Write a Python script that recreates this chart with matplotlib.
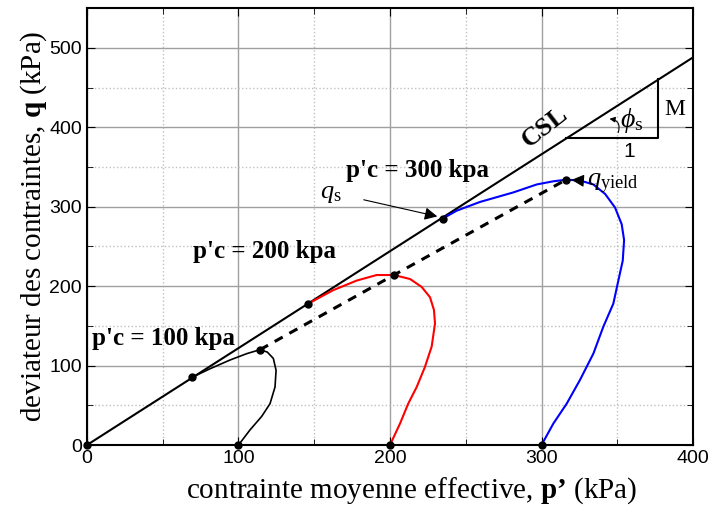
import matplotlib.pyplot as plt
import numpy as np
from matplotlib.patches import FancyArrowPatch

plt.rcParams['mathtext.fontset'] = 'custom'
plt.rcParams['mathtext.rm'] = 'Liberation Serif'
plt.rcParams['mathtext.it'] = 'Liberation Serif:italic'
plt.rcParams['mathtext.bf'] = 'Liberation Serif:bold'

# critical state line slope
M = 1.22
csl_p = [0, 400]

# stress paths (p', q) for the three consolidation pressures
p100 = [100, 107.6, 115.3, 120.8, 124.1, 124.8, 123, 119, 114.2, 105.4, 94.4, 81.2, 69.1]
q100 = [0, 19, 36, 52, 73, 94, 109, 117, 120, 115, 107, 96, 85]
p200 = [200, 206.6, 212, 217.6, 223, 227.5, 229.7, 229, 226.4, 220.9, 213.2, 202.6,
        191.2, 178, 162.6, 146]
q200 = [0, 27, 52, 73, 98, 124, 153, 170, 186, 199, 209, 214, 214, 207, 195, 178]
p300 = [300, 307.8, 316.6, 325.4, 334.2, 340.8, 347.4, 350.7, 353.6, 354.5, 352.9, 348.5,
        342, 334.2, 325.4, 316.2, 307.8, 296.8, 281.4, 259.4, 244, 234.8]
q300 = [0, 27, 52, 82, 115, 149, 178, 207, 232, 258, 278, 299, 316, 328, 333, 334, 332,
        328, 318, 306, 295, 285]

# yield points and points reaching the CSL
yield_p = [114.2, 202.6, 316.2]
yield_q = [120, 214, 334]
cs_p = [69.1, 146, 234.8]
cs_q = [85, 178, 285]
start_p = [0, 100, 200, 300]

fig = plt.figure(figsize=(7.13, 5.08), dpi=100)
ax = fig.add_axes([0.122, 0.124, 0.850, 0.860])

ax.plot(csl_p, [M * v for v in csl_p], color='black', lw=1.5)
ax.plot(p100, q100, color='black', lw=1.2)
ax.plot(p200, q200, color='red', lw=1.5)
ax.plot(p300, q300, color='blue', lw=1.5)
ax.plot(yield_p, yield_q, color='black', lw=2.2, ls=(0, (3, 2.5)))
ax.plot(yield_p + cs_p, yield_q + cs_q, 'o', color='black', ms=5)
ax.plot(start_p, [0] * len(start_p), 'o', color='black', ms=5, clip_on=False)

ax.set_xlim(0, 400)
ax.set_ylim(0, 550)
ax.set_xticks([0, 100, 200, 300, 400])
ax.set_yticks([0, 100, 200, 300, 400, 500])
ax.set_xticks(np.arange(50, 400, 100), minor=True)
ax.set_yticks(np.arange(50, 550, 100), minor=True)
ax.tick_params(which='both', direction='in', right=True, top=True, labelsize=14)
ax.tick_params(which='major', length=6)
ax.tick_params(which='minor', length=4)
for lab in ax.get_xticklabels() + ax.get_yticklabels():
    lab.set_family('Liberation Sans')
ax.grid(which='major', color='#a0a0a0', lw=1)
ax.grid(which='minor', color='#c0c0c0', lw=1, ls=':')
ax.set_axisbelow(True)
for s in ax.spines.values():
    s.set_linewidth(1.5)

ax.set_xlabel("contrainte moyenne effective, $\\mathbf{p\u2019}$ (kPa)",
              family='Liberation Serif', fontsize=21)
ax.xaxis.set_label_coords(0.536, -0.07)
ax.set_ylabel(r"deviateur des contraintes, $\mathbf{q}$ (kPa)",
              family='Liberation Serif', fontsize=21, labelpad=0)

bold = dict(family='Liberation Serif', fontweight='bold', fontsize=18)
ax.text(3, 134, "p'c = 100 kpa", va='center', **bold)
ax.text(70, 243, "p'c = 200 kpa", va='center', **bold)
ax.text(171, 346, "p'c = 300 kpa", va='center', **bold)
ax.text(302, 400, "CSL", rotation=38, ha='center', va='center',
        family='Liberation Serif', fontweight='bold', fontsize=19)

# slope triangle
ax.plot([316, 377, 377], [386, 386, 461], color='black', lw=1.5)
ax.text(358, 381, "1", ha='center', va='top', family='Liberation Sans', fontsize=15)
ax.text(381, 422, "M", ha='left', va='center', family='Liberation Serif', fontsize=17)
ax.text(352, 408, r"$\phi_{\rm s}$", ha='left', va='center', fontsize=20)
arc = FancyArrowPatch((350, 390), (343, 411), connectionstyle='arc3,rad=0.7',
                      arrowstyle='-|>', mutation_scale=8, color='black', lw=0.8)
ax.add_patch(arc)

ax.annotate(r"$q_{\rm s}$", xy=(233, 287), xytext=(154, 318), fontsize=19,
            ha='left', va='center',
            arrowprops=dict(arrowstyle='-|>', color='black', lw=0.8, shrinkA=14))
ax.annotate(r"$q_{\rm yield}$", xy=(318, 334), xytext=(330, 330), fontsize=19,
            ha='left', va='center',
            arrowprops=dict(arrowstyle='-|>', color='black', lw=0.8, shrinkA=2))

fig.savefig('out.png', dpi=100)
